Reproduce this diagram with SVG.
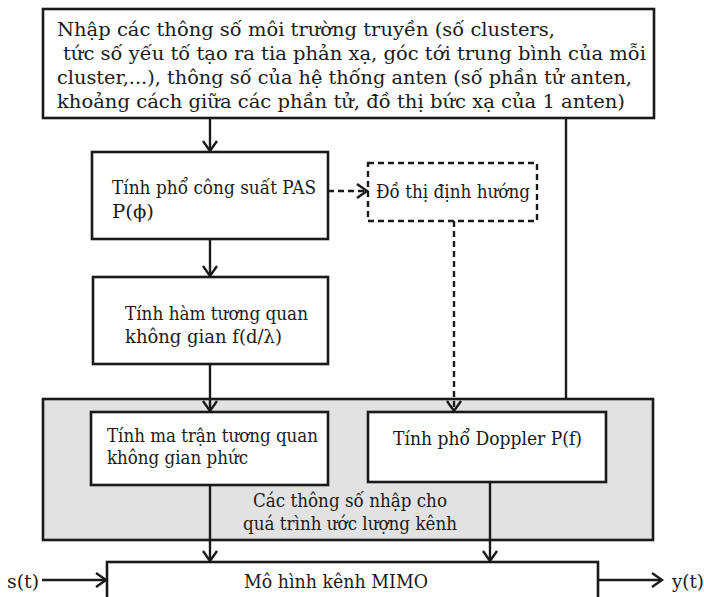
<svg xmlns="http://www.w3.org/2000/svg" width="704" height="597" viewBox="0 0 704 597">
<defs>
<style>
.box{fill:#fff;stroke:#1a1a1a;stroke-width:2.6}
.dbox{fill:#fff;stroke:#1a1a1a;stroke-width:2.4;stroke-dasharray:6 4}
.gray{fill:#e2e2e2;stroke:#1a1a1a;stroke-width:2.6}
.c{fill:none;stroke:#1a1a1a;stroke-width:2.4}
.d{fill:none;stroke:#1a1a1a;stroke-width:2.4;stroke-dasharray:6 4}
</style>
<marker id="arr" markerUnits="userSpaceOnUse" markerWidth="20" markerHeight="20" refX="11" refY="8" orient="auto">
<path d="M1,1 L11,8 L1,15" fill="none" stroke="#1a1a1a" stroke-width="2.4"/>
</marker>
</defs>
<rect width="704" height="597" fill="#fff"/>
<g font-family="DejaVu Serif, Liberation Serif, serif" font-size="19" fill="#1a1a1a">
<g id="inputs">
<rect class="box" x="43" y="9" width="611" height="109"/>
<text x="57" y="36" textLength="498" lengthAdjust="spacingAndGlyphs">Nhập các thông số môi trường truyền (số clusters,</text>
<text x="63" y="60" textLength="583" lengthAdjust="spacingAndGlyphs">tức số yếu tố tạo ra tia phản xạ, góc tới trung bình của mỗi</text>
<text x="57" y="84" textLength="575" lengthAdjust="spacingAndGlyphs">cluster,...), thông số của hệ thống anten (số phần tử anten,</text>
<text x="57" y="108" textLength="568" lengthAdjust="spacingAndGlyphs">khoảng cách giữa các phần tử, đồ thị bức xạ của 1 anten)</text>
</g>
<g id="params">
<rect class="gray" x="43" y="399" width="610" height="141"/>
<text x="253" y="507" textLength="194" lengthAdjust="spacingAndGlyphs">Các thông số nhập cho</text>
<text x="243" y="530" textLength="214" lengthAdjust="spacingAndGlyphs">quá trình ước lượng kênh</text>
</g>
<g id="pas">
<rect class="box" x="92" y="152" width="236" height="87"/>
<text x="112" y="194" textLength="204" lengthAdjust="spacingAndGlyphs">Tính phổ công suất PAS</text>
<text x="112" y="218" textLength="42" lengthAdjust="spacingAndGlyphs">P(ϕ)</text>
</g>
<g id="pattern">
<rect class="dbox" x="368" y="163" width="169" height="58"/>
<text x="376" y="198" textLength="154" lengthAdjust="spacingAndGlyphs">Đồ thị định hướng</text>
</g>
<g id="corr">
<rect class="box" x="93" y="277" width="235" height="87"/>
<text x="125" y="320" textLength="183" lengthAdjust="spacingAndGlyphs">Tính hàm tương quan</text>
<text x="125" y="343" textLength="157" lengthAdjust="spacingAndGlyphs">không gian f(d/λ)</text>
</g>
<g id="matrix">
<rect class="box" x="91" y="412" width="237" height="73"/>
<text x="107" y="442" textLength="211" lengthAdjust="spacingAndGlyphs">Tính ma trận tương quan</text>
<text x="107" y="464" textLength="141" lengthAdjust="spacingAndGlyphs">không gian phức</text>
</g>
<g id="doppler">
<rect class="box" x="368" y="412" width="238" height="70"/>
<text x="393" y="445" textLength="189" lengthAdjust="spacingAndGlyphs">Tính phổ Doppler P(f)</text>
</g>
<g id="mimo">
<rect class="box" x="107" y="562" width="491" height="50"/>
<text x="244" y="588" textLength="184" lengthAdjust="spacingAndGlyphs">Mô hình kênh MIMO</text>
</g>
<g id="io">
<text x="7" y="588" textLength="32" lengthAdjust="spacingAndGlyphs">s(t)</text>
<text x="672" y="588" textLength="32" lengthAdjust="spacingAndGlyphs">y(t)</text>
</g>
</g>
<g id="connectors">
<line class="c" x1="210" y1="118" x2="210" y2="151" marker-end="url(#arr)"/>
<line class="d" x1="328" y1="191" x2="367" y2="191" marker-end="url(#arr)"/>
<line class="c" x1="210" y1="239" x2="210" y2="276" marker-end="url(#arr)"/>
<line class="c" x1="210" y1="364" x2="210" y2="411" marker-end="url(#arr)"/>
<line class="d" x1="454" y1="221" x2="454" y2="411" marker-end="url(#arr)"/>
<line class="c" x1="566" y1="118" x2="566" y2="399"/>
<line class="c" x1="210" y1="485" x2="210" y2="561" marker-end="url(#arr)"/>
<line class="c" x1="490" y1="482" x2="490" y2="561" marker-end="url(#arr)"/>
<line class="c" x1="42" y1="580" x2="106" y2="580" marker-end="url(#arr)"/>
<line class="c" x1="598" y1="580" x2="662" y2="580" marker-end="url(#arr)"/>
</g>
</svg>
